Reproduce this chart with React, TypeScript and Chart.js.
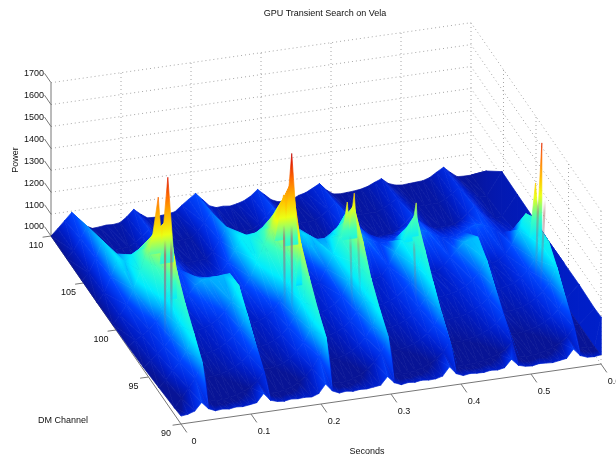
import React, { useEffect, useRef } from "react";
import { Chart, registerables } from "chart.js";

Chart.register(...registerables);

const titleText = "GPU Transient Search on Vela";
const secondsTicks = [0, 0.1, 0.2, 0.3, 0.4, 0.5, 0.6];
const secondsLabels = ["0", "0.1", "0.2", "0.3", "0.4", "0.5", "0.6"];
const dmTicks = [90, 95, 100, 105, 110];
const powerTicks = [1000, 1100, 1200, 1300, 1400, 1500, 1600, 1700];

// Surface table, one list of powers per DM row, sampled at 62 equal time steps over 0..0.6 s
const dmRows = [110, 107.6, 105.25, 102.9, 100.5, 98.1, 95.75, 93.4, 91, 90];
const power110 = [1000,1030,1062,1094,1062,1025,1008,1010,1014,1012,1016,1038,1068,1042,1020,1018,1022,1025,1030,1055,1078,1100,1068,1035,1022,1024,1020,1026,1035,1052,1078,1050,1022,1008,1008,1010,1024,1032,1048,1064,1030,1008,1004,1006,1008,1012,1020,1034,1046,1020,1008,1004,1006,1008,1010,1020,1040,1058,1030,1006,1004,1004];
const power107 = [1000,1030,1084,1134,1084,1041,1015,1010,1010,1012,1028,1052,1080,1052,1028,1012,1010,1011,1012,1037,1075,1118,1075,1037,1012,1010,1011,1012,1032,1064,1100,1064,1032,1012,1010,1011,1012,1028,1052,1080,1052,1028,1010,1009,1010,1011,1022,1040,1060,1040,1022,1010,1009,1010,1011,1025,1046,1070,1046,1025,1012,1012];
const power105 = [1000,1030,1095,1169,1105,1050,1020,1014,1014,1016,1030,1058,1090,1058,1030,1014,1014,1016,1018,1045,1095,1150,1095,1045,1018,1014,1015,1015,1040,1085,1130,1085,1040,1015,1013,1014,1015,1036,1072,1110,1072,1036,1014,1012,1013,1014,1030,1056,1085,1056,1030,1014,1012,1013,1014,1030,1056,1085,1056,1030,1016,1020];
const power103 = [1000,1040,1110,1190,1170,1196,1215,1242,1270,1315,1220,1100,1095,1065,1045,1040,1040,1045,1060,1100,1150,1200,1205,1215,1235,1260,1290,1300,1190,1090,1180,1165,1144,1145,1165,1190,1240,1260,1150,1120,1105,1087,1090,1092,1100,1130,1150,1120,1110,1090,1075,1070,1075,1085,1100,1110,1105,1090,1070,1055,1050,1045];
const power100 = [1002,1040,1085,1150,1230,1330,1390,1420,1450,1150,1055,1090,1130,1150,1152,1155,1158,1160,1060,1085,1130,1200,1270,1340,1420,1480,1540,1210,1060,1045,1060,1120,1180,1260,1330,1390,1130,1050,1040,1050,1090,1150,1200,1260,1310,1100,1040,1035,1055,1090,1120,1150,1160,1165,1060,1035,1045,1070,1110,1170,1240,1220];
const power98 = [1005,1030,1049,1069,1102,1146,1211,1323,1055,1032,1034,1041,1054,1075,1103,1144,1215,1045,1030,1038,1052,1076,1114,1165,1240,1370,1060,1032,1036,1048,1067,1098,1160,1240,1340,1052,1030,1035,1044,1059,1084,1117,1180,1260,1045,1030,1032,1038,1048,1064,1085,1116,1170,1038,1029,1035,1045,1065,1095,1140,1200,1215];
const power96 = [1010,1037,1065,1092,1129,1184,1278,1048,1032,1035,1041,1052,1070,1094,1129,1190,1042,1031,1039,1050,1071,1102,1146,1210,1320,1050,1032,1037,1047,1064,1090,1126,1179,1270,1046,1031,1036,1043,1056,1076,1104,1145,1215,1042,1031,1034,1038,1047,1060,1078,1104,1150,1037,1030,1035,1042,1054,1072,1098,1135,1200,1040];
const power93 = [1020,1050,1089,1122,1170,1253,1046,1035,1038,1043,1052,1065,1084,1112,1160,1040,1034,1041,1051,1068,1096,1132,1187,1280,1048,1035,1040,1048,1063,1085,1116,1162,1240,1044,1034,1038,1044,1054,1070,1092,1125,1180,1040,1034,1037,1041,1047,1058,1072,1094,1130,1038,1034,1038,1044,1053,1068,1088,1118,1170,1042,1035];
const power91 = [1030,1070,1110,1151,1222,1045,1036,1038,1042,1049,1060,1076,1098,1137,1040,1035,1042,1050,1066,1090,1123,1171,1255,1046,1036,1040,1048,1061,1081,1109,1149,1219,1044,1036,1038,1043,1052,1065,1083,1109,1155,1040,1035,1037,1040,1045,1054,1065,1081,1110,1038,1035,1038,1042,1050,1061,1077,1100,1140,1040,1036,1036];
const power90 = [1036,1040,1050,1085,1052,1038,1041,1037,1042,1039,1043,1048,1085,1050,1040,1037,1042,1039,1041,1038,1049,1088,1052,1038,1042,1037,1041,1039,1043,1047,1082,1049,1036,1041,1038,1043,1039,1040,1048,1086,1050,1037,1042,1039,1038,1043,1040,1046,1080,1048,1039,1036,1042,1040,1038,1043,1048,1086,1052,1040,1038,1042];
const powerRows = [power110, power107, power105, power103, power100, power98, power96, power93, power91, power90];
const rowColorShift = [0, 0, 0, 0, 0, 0, -15, -35, -70, 0];

// The raised edge at t = 0.6: top power and the power its colour corresponds to, per DM row
const wallPower = [1004, 1126, 1224, 1222, 1220, 1215, 1217, 1218, 1212, 1215];
const wallColorPower = [1004, 1015, 1022, 1026, 1030, 1034, 1036, 1038, 1040, 1042];

// Narrow spikes on top of the surface
const spikeT = [0.0787, 0.065, 0.065, 0.2557, 0.244, 0.244, 0.345, 0.335, 0.4335, 0.425, 0.6, 0.59];
const spikeDm = [100.5, 100.5, 98, 100.5, 100.5, 98, 100.5, 100.5, 100.5, 100.5, 99.1, 99];
const spikeTop = [1640, 1556, 1394, 1668, 1484, 1363, 1446, 1410, 1361, 1264, 1619, 1445];
const spikeBase = [1250, 1300, 1200, 1250, 1280, 1180, 1240, 1240, 1210, 1190, 1220, 1200];
const spikeWidthLeft = [0.011, 0.012, 0.005, 0.011, 0.012, 0.005, 0.008, 0.008, 0.008, 0.008, 0.007, 0.008];
const spikeWidthRight = [0.009, 0.006, 0.003, 0.009, 0.006, 0.003, 0.004, 0.004, 0.003, 0.003, 0, 0.006];

// Thin streaks running down the near side of the strong pulses
const streakT0 = [0.066, 0.074, 0.234, 0.234, 0.331, 0.341, 0.419, 0.586, 0.587];
const streakDm0 = [99.55, 99.47, 98.19, 99.36, 99.6, 99.49, 99.29, 97.12, 98.27];
const streakZ0 = [1400, 1400, 1450, 1400, 1300, 1300, 1250, 1450, 1400];
const streakT1 = [0.043, 0.063, 0.23, 0.224, 0.309, 0.333, 0.401, 0.576, 0.579];
const streakDm1 = [97.09, 98.26, 97.66, 98.14, 96.92, 98.26, 97, 96.73, 97.76];
const streakZ1 = [1060, 1060, 1060, 1060, 1060, 1060, 1060, 1060, 1060];
const streakOpacity = [0.8, 0.75, 0.7, 0.7, 0.4, 0.35, 0.4, 0.5, 0.5];

const colorPower = [1000, 1035, 1060, 1100, 1150, 1190, 1280, 1380, 1450, 1550, 1640, 1680];
const colorRed = [8, 0, 0, 0, 0, 0, 60, 235, 255, 255, 220, 170];
const colorGreen = [20, 28, 42, 70, 170, 235, 255, 255, 200, 110, 20, 0];
const colorBlue = [150, 195, 225, 255, 255, 255, 190, 20, 0, 0, 0, 0];

const TMAX = 0.6;
const projX = (t: number, dm: number) => 181 + 700 * t - 6.5 * (dm - 90);
const projY = (t: number, dm: number, p: number) => 424 - 100 * t - 9.4 * (dm - 90) - 0.219 * (p - 1000);
const pt = (t: number, dm: number, p: number) => ({ x: projX(t, dm), y: projY(t, dm, p) });

function colorAt(v: number): string {
  const n = colorPower.length;
  if (v <= colorPower[0]) return `rgb(${colorRed[0]},${colorGreen[0]},${colorBlue[0]})`;
  if (v >= colorPower[n - 1]) return `rgb(${colorRed[n - 1]},${colorGreen[n - 1]},${colorBlue[n - 1]})`;
  let i = 0;
  while (v > colorPower[i + 1]) i++;
  const f = (v - colorPower[i]) / (colorPower[i + 1] - colorPower[i]);
  const m = (a: number[]) => Math.round(a[i] + (a[i + 1] - a[i]) * f);
  return `rgb(${m(colorRed)},${m(colorGreen)},${m(colorBlue)})`;
}

type V = { x: number; y: number; c: number };

function shade(chart: any, verts: V[]) {
  const sx = chart.scales.x;
  const sy = chart.scales.y;
  const px = (v: number) => {
    const p = sx ? sx.getPixelForValue(v) : NaN;
    return Number.isFinite(p) ? p : v;
  };
  const py = (v: number) => {
    const p = sy ? sy.getPixelForValue(v) : NaN;
    return Number.isFinite(p) ? p : v;
  };
  const ps = verts.map((v) => ({ x: px(v.x), y: py(v.y), c: v.c })).sort((a, b) => a.c - b.c);
  const [lo, mid, hi] = ps;
  if (hi.c - lo.c < 1) return colorAt((lo.c + hi.c) / 2);
  const f = (mid.c - lo.c) / (hi.c - lo.c);
  const qx = lo.x + (hi.x - lo.x) * f;
  const qy = lo.y + (hi.y - lo.y) * f;
  let dx = qx - mid.x;
  let dy = qy - mid.y;
  const len = Math.hypot(dx, dy);
  if (len < 1e-3) return colorAt((lo.c + hi.c) / 2);
  dx /= len;
  dy /= len;
  const nx = -dy;
  const ny = dx;
  const s = (lo.x - mid.x) * nx + (lo.y - mid.y) * ny;
  const e = (hi.x - mid.x) * nx + (hi.y - mid.y) * ny;
  if (!Number.isFinite(s) || !Number.isFinite(e) || Math.abs(e - s) < 0.02) return colorAt((lo.c + hi.c) / 2);
  const g = chart.ctx.createLinearGradient(mid.x + nx * s, mid.y + ny * s, mid.x + nx * e, mid.y + ny * e);
  g.addColorStop(0, colorAt(lo.c));
  colorPower.forEach((p) => {
    if (p > lo.c && p < hi.c) g.addColorStop((p - lo.c) / (hi.c - lo.c), colorAt(p));
  });
  g.addColorStop(1, colorAt(hi.c));
  return g;
}

function triangle(verts: V[]) {
  let cache: any = null;
  const paint = (ctx: any) => {
    if (!cache) cache = shade(ctx.chart, verts);
    return cache;
  };
  return {
    data: [...verts.map((v) => ({ x: v.x, y: v.y })), { x: verts[0].x, y: verts[0].y }],
    showLine: true,
    fill: "shape",
    tension: 0,
    pointRadius: 0,
    borderWidth: 0.7,
    backgroundColor: paint,
    borderColor: paint,
  };
}

function guide(points: { x: number; y: number }[], color: string, dash: number[], width = 1) {
  return {
    data: points,
    showLine: true,
    fill: false,
    tension: 0,
    pointRadius: 0,
    borderWidth: width,
    borderColor: color,
    borderDash: dash,
  };
}

function buildDatasets() {
  const out: any[] = [];
  const grid = "#a6a6a6";
  const axis = "#777777";
  const dots = [1, 3];
  const secondsAt = (i: number) => (i * TMAX) / 61;

  powerTicks.forEach((p) => {
    out.push(guide([pt(0, 110, p), pt(0.6, 110, p), pt(0.6, 90, p)], grid, dots));
  });
  secondsTicks.forEach((t) => {
    if (t > 0) out.push(guide([pt(t, 110, 1000), pt(t, 110, 1700)], grid, dots));
    out.push(guide([pt(t, 90, 1000), pt(t, 89.1, 1000)], axis, []));
  });
  dmTicks.forEach((d) => {
    if (d < 110) out.push(guide([pt(0.6, d, 1000), pt(0.6, d, 1700)], grid, dots));
    out.push(guide([pt(0, d, 1000), pt(-0.012, d, 1000)], axis, []));
  });
  powerTicks.forEach((p) => out.push(guide([pt(0, 110, p), pt(0, 111, p)], axis, [])));
  out.push(guide([pt(0, 110, 1000), pt(0, 110, 1700)], axis, []));
  out.push(guide([pt(0, 90, 1000), pt(0.6, 90, 1000)], axis, []));
  out.push(guide([pt(0, 90, 1000), pt(0, 110, 1000)], axis, []));

  const vert = (t: number, dm: number, p: number, c = p): V => ({ x: projX(t, dm), y: projY(t, dm, p), c });

  for (let r = 0; r < dmRows.length - 1; r++) {
    const dmA = dmRows[r];
    const dmB = dmRows[r + 1];
    const a = powerRows[r];
    const b = powerRows[r + 1];
    const shiftA = rowColorShift[r];
    const shiftB = rowColorShift[r + 1];
    const wA0 = vert(TMAX, dmA, a[61]);
    const wB0 = vert(TMAX, dmB, b[61]);
    const wA1 = vert(TMAX, dmA, wallPower[r], wallColorPower[r]);
    const wB1 = vert(TMAX, dmB, wallPower[r + 1], wallColorPower[r + 1]);
    out.push(triangle([{ ...wA0, c: wallColorPower[r] }, wA1, wB1]));
    out.push(triangle([{ ...wA0, c: wallColorPower[r] }, wB1, { ...wB0, c: wallColorPower[r + 1] }]));
    for (let i = 60; i >= 0; i--) {
      const t0 = secondsAt(i);
      const t1 = secondsAt(i + 1);
      const a0 = vert(t0, dmA, a[i], a[i] + shiftA);
      const a1 = vert(t1, dmA, a[i + 1], a[i + 1] + shiftA);
      const b0 = vert(t0, dmB, b[i], b[i] + shiftB);
      const b1 = vert(t1, dmB, b[i + 1], b[i + 1] + shiftB);
      if (Math.abs(a[i] - b[i + 1]) <= Math.abs(a[i + 1] - b[i])) {
        out.push(triangle([a0, a1, b1]));
        out.push(triangle([a0, b1, b0]));
      } else {
        out.push(triangle([a1, b1, b0]));
        out.push(triangle([a0, a1, b0]));
      }
    }
  }

  spikeT.forEach((t, i) => {
    const d = spikeDm[i];
    out.push(
      triangle([
        vert(t - spikeWidthLeft[i], d, spikeBase[i]),
        vert(t + spikeWidthRight[i], d, spikeBase[i]),
        vert(t, d, spikeTop[i]),
      ])
    );
  });

  streakT0.forEach((t0, i) => {
    const from = pt(t0, streakDm0[i], streakZ0[i]);
    const to = pt(streakT1[i], streakDm1[i], streakZ1[i]);
    const o = streakOpacity[i];
    out.push({
      data: [from, to],
      showLine: true,
      fill: false,
      tension: 0,
      pointRadius: 0,
      borderWidth: 2.2,
      borderColor: (ctx: any) => {
        const g = ctx.chart.ctx.createLinearGradient(from.x, from.y, to.x, to.y);
        g.addColorStop(0, `rgba(175,110,105,0)`);
        g.addColorStop(0.15, `rgba(175,110,105,${o})`);
        g.addColorStop(0.55, `rgba(130,110,150,${o * 0.75})`);
        g.addColorStop(1, "rgba(60,120,220,0)");
        return g;
      },
    });
  });
  return out.reverse();
}

const textPlugin = {
  id: "plotText",
  afterDraw(chart: any) {
    const { ctx, scales } = chart;
    const X = (v: number) => scales.x.getPixelForValue(v);
    const Y = (v: number) => scales.y.getPixelForValue(v);
    ctx.save();
    ctx.fillStyle = "#111111";
    ctx.font = "9px 'Liberation Sans'";
    ctx.textBaseline = "middle";
    ctx.textAlign = "center";
    ctx.fillText(titleText, X(325), Y(14));
    ctx.fillText("DM Channel", X(63), Y(421));
    ctx.fillText("Seconds", X(367), Y(452));
    secondsTicks.forEach((t, i) => {
      ctx.fillText(secondsLabels[i], X(projX(t, 90) + 13), Y(projY(t, 90, 1000) + 18));
    });
    dmTicks.forEach((d) => {
      ctx.fillText(String(d), X(projX(0, d) - 15), Y(projY(0, d, 1000) + 9.5));
    });
    ctx.textAlign = "right";
    powerTicks.forEach((p) => {
      ctx.fillText(String(p), X(44), Y(projY(0, 110, p) - 9));
    });
    ctx.save();
    ctx.translate(X(16), Y(160));
    ctx.rotate(-Math.PI / 2);
    ctx.textAlign = "center";
    ctx.fillText("Power", 0, 0);
    ctx.restore();
    ctx.restore();
  },
};

export default function App() {
  const ref = useRef<HTMLCanvasElement | null>(null);
  useEffect(() => {
    document.body.style.margin = "0";
    document.body.style.background = "#ffffff";
    const chart = new Chart(ref.current as HTMLCanvasElement, {
      type: "scatter",
      data: { datasets: buildDatasets() },
      options: {
        responsive: false,
        animation: false,
        devicePixelRatio: 1,
        events: [],
        layout: { padding: 0 },
        plugins: { legend: { display: false }, tooltip: { enabled: false }, title: { display: false } },
        scales: {
          x: { type: "linear", min: 0, max: 616, display: false },
          y: { type: "linear", min: 0, max: 459, reverse: true, display: false },
        },
      },
      plugins: [textPlugin],
    } as any);
    return () => chart.destroy();
  }, []);
  return <canvas ref={ref} width={616} height={459} style={{ display: "block" }} />;
}
